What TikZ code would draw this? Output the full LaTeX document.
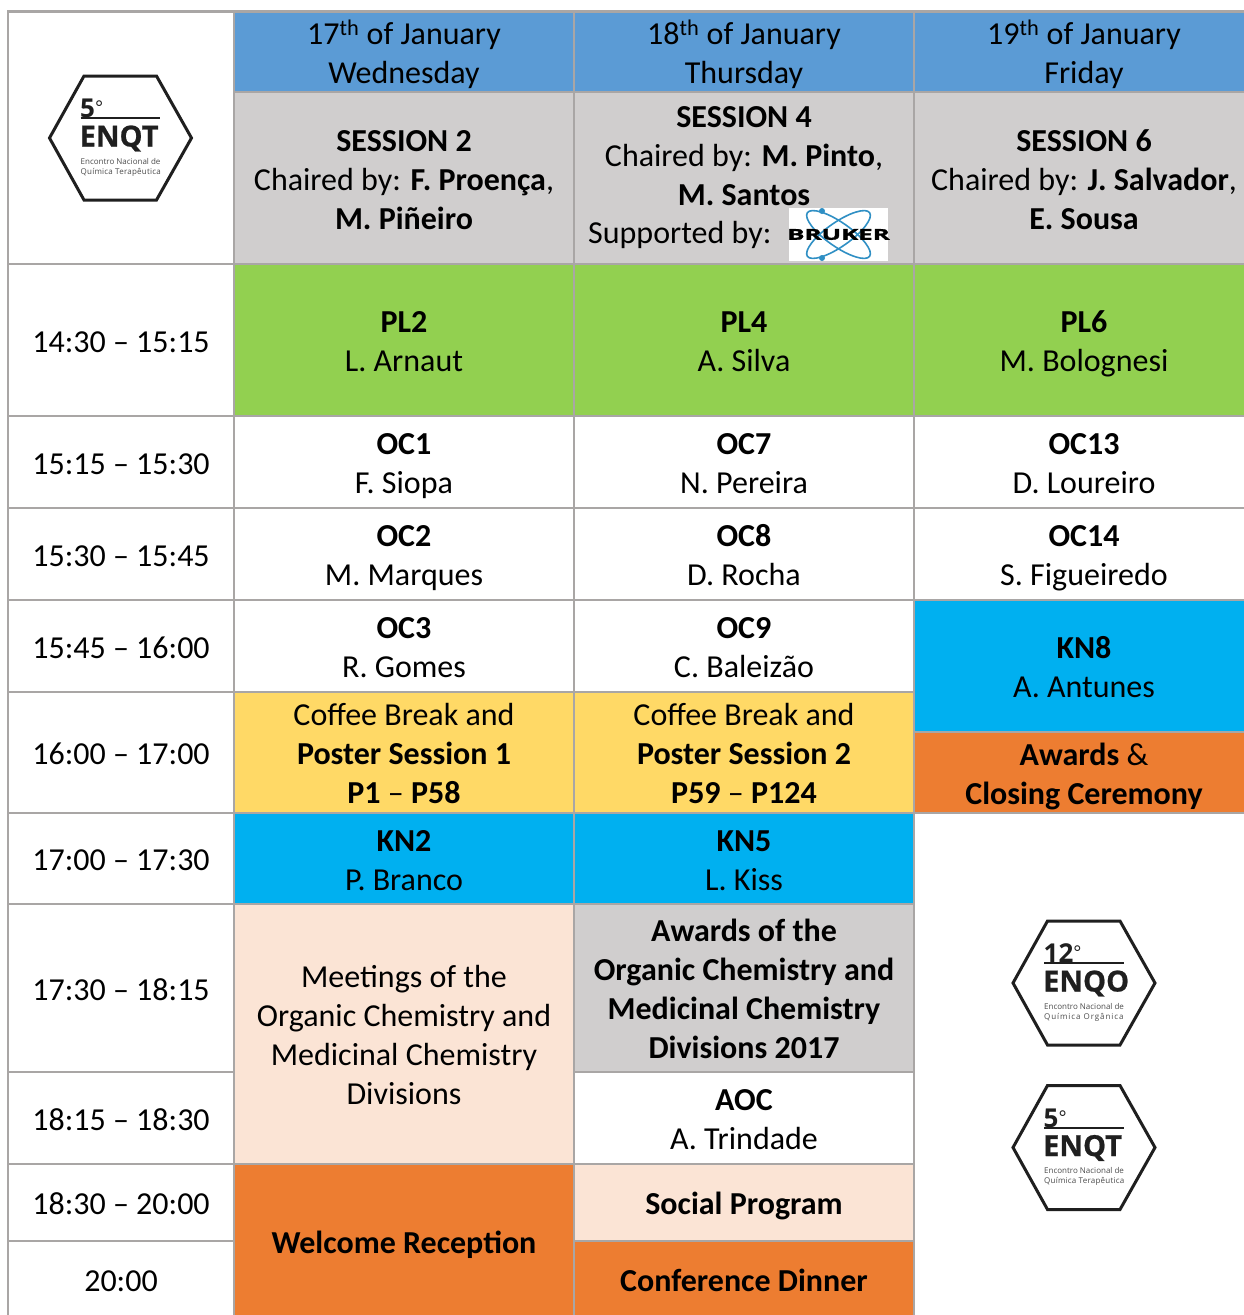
\documentclass[tikz,border=0pt]{standalone}
\usepackage{fontspec}
\setmainfont{Carlito}
\newfontfamily\logofont{Open Sans}
\definecolor{gridc}{HTML}{A9A6A5}
\definecolor{hdr}{HTML}{5B9BD5}
\definecolor{sess}{HTML}{D0CECE}
\definecolor{plc}{HTML}{92D050}
\definecolor{knc}{HTML}{00B0F0}
\definecolor{cof}{HTML}{FFD966}
\definecolor{org}{HTML}{ED7D31}
\definecolor{pch}{HTML}{FBE4D5}
\definecolor{brk}{HTML}{2F8FC4}
\tikzset{
  cellbox/.style={draw=gridc,line width=2pt,inner sep=0pt,outer sep=0pt},
  celltext/.style={align=center,inner sep=0pt,font=\fontsize{32}{39}\selectfont,text=black},
  hexlogo/.style={draw=black!88,line width=3pt,line join=miter},
  logosmall/.style={inner sep=0pt,text=black!70,font=\logofont\fontsize{8}{10}\selectfont,align=left,anchor=north west}
}
% name, x0, y0, x1, y1, fill, text
\newcommand{\tcell}[7]{%
  \pgfmathsetmacro{\cw}{#4-#2}\pgfmathsetmacro{\ch}{#5-#3}%
  \pgfmathsetmacro{\cx}{(#2+#4)/2}\pgfmathsetmacro{\cy}{(#3+#5)/2}%
  \node[cellbox,fill=#6,minimum width=\cw pt,minimum height=\ch pt] (#1) at (\cx,\cy) {};
  \node[celltext,yshift=-4.6pt] (#1t) at (#1.center) {\strut #7\strut};
}
% name, centre x, centre y, big number, big word, line 2
\newcommand{\enqlogo}[6]{%
  \begin{scope}[shift={(#2,#3)}]
    \draw[hexlogo] (-71,0) -- (-36.5,-62) -- (36,-62) -- (71,0) -- (36,62) -- (-36.5,62) -- cycle;
    \node[inner sep=0pt,anchor=base west,font=\logofont\bfseries\fontsize{26}{26}\selectfont,text=black!88] (#1n) at (-40.5,-20.5) {#4{\fontsize{19}{19}\selectfont\mdseries\raisebox{3pt}{°}}};
    \draw[black!88,line width=2pt] (-40,-20) -- (39.5,-20);
    \node[inner sep=0pt,anchor=base west,font=\logofont\bfseries\fontsize{29}{29}\selectfont\addfontfeature{FakeBold=0.7},text=black!88] (#1w) at (-41,8.5) {#5};
    \node[logosmall] (#1s) at (-40,20) {Encontro Nacional de\\#6};
  \end{scope}
}
\begin{document}
\begin{tikzpicture}[x=1pt,y=-1pt]
\useasboundingbox (0,0) rectangle (1244,1315);
\fill[white] (0,0) rectangle (1244,1315);
% first column
\tcell{c0}{8}{12}{234}{264}{white}{}
\tcell{t1}{8}{264}{234}{416}{white}{14:30 – 15:15}
\tcell{t2}{8}{416}{234}{508}{white}{15:15 – 15:30}
\tcell{t3}{8}{508}{234}{600}{white}{15:30 – 15:45}
\tcell{t4}{8}{600}{234}{692}{white}{15:45 – 16:00}
\tcell{t5}{8}{692}{234}{813}{white}{16:00 – 17:00}
\tcell{t6}{8}{813}{234}{904}{white}{17:00 – 17:30}
\tcell{t7}{8}{904}{234}{1072}{white}{17:30 – 18:15}
\tcell{t8}{8}{1072}{234}{1164}{white}{18:15 – 18:30}
\tcell{t9}{8}{1164}{234}{1241}{white}{18:30 – 20:00}
\tcell{t10}{8}{1241}{234}{1318}{white}{20:00}
% headers
\tcell{h1}{234}{12}{574}{92}{hdr}{17\textsuperscript{th} of January\\Wednesday}
\tcell{h2}{574}{12}{914}{92}{hdr}{18\textsuperscript{th} of January\\Thursday}
\tcell{h3}{914}{12}{1254}{92}{hdr}{19\textsuperscript{th} of January\\Friday}
% sessions
\tcell{s1}{234}{92}{574}{264}{sess}{\textbf{SESSION 2}\\Chaired by: \textbf{F. Proença},\\\textbf{M. Piñeiro}}
\tcell{s2}{574}{92}{914}{264}{sess}{}
\node[celltext,yshift=-3.2pt] (s2t) at (744,155) {\strut\textbf{SESSION 4}\\Chaired by: \textbf{M. Pinto},\\\textbf{M. Santos}\strut};
\node[celltext,anchor=base west] (s2u) at (588,243.5) {Supported by:};
\tcell{s3}{914}{92}{1254}{264}{sess}{\textbf{SESSION 6}\\Chaired by: \textbf{J. Salvador},\\\textbf{E. Sousa}}
% Bruker logo
\fill[white] (789,208) rectangle (888,261);
\draw[brk,line width=1.6pt,rotate around={35:(838.5,234.5)}] (838.5,234.5) ellipse (38 and 12);
\draw[brk,line width=1.6pt,rotate around={-35:(838.5,234.5)}] (838.5,234.5) ellipse (38 and 12);
\fill[brk] (822,211) circle (3) (822,258) circle (3);
\node[inner sep=0pt,font=\logofont\bfseries\fontsize{15}{15}\selectfont\addfontfeature{FakeBold=1.5},xscale=1.72] (brk) at (838.5,234.5) {BRUKER};
% plenaries
\tcell{p1}{234}{264}{574}{416}{plc}{\textbf{PL2}\\L. Arnaut}
\tcell{p2}{574}{264}{914}{416}{plc}{\textbf{PL4}\\A. Silva}
\tcell{p3}{914}{264}{1254}{416}{plc}{\textbf{PL6}\\M. Bolognesi}
% oral communications
\tcell{o1}{234}{416}{574}{508}{white}{\textbf{OC1}\\F. Siopa}
\tcell{o7}{574}{416}{914}{508}{white}{\textbf{OC7}\\N. Pereira}
\tcell{o13}{914}{416}{1254}{508}{white}{\textbf{OC13}\\D. Loureiro}
\tcell{o2}{234}{508}{574}{600}{white}{\textbf{OC2}\\M. Marques}
\tcell{o8}{574}{508}{914}{600}{white}{\textbf{OC8}\\D. Rocha}
\tcell{o14}{914}{508}{1254}{600}{white}{\textbf{OC14}\\S. Figueiredo}
\tcell{o3}{234}{600}{574}{692}{white}{\textbf{OC3}\\R. Gomes}
\tcell{o9}{574}{600}{914}{692}{white}{\textbf{OC9}\\C. Baleizão}
\tcell{k8}{914}{600}{1254}{732}{knc}{\textbf{KN8}\\A. Antunes}
% coffee
\tcell{cb1}{234}{692}{574}{813}{cof}{Coffee Break and\\\textbf{Poster Session 1}\\\textbf{P1} – \textbf{P58}}
\tcell{cb2}{574}{692}{914}{813}{cof}{Coffee Break and\\\textbf{Poster Session 2}\\\textbf{P59} – \textbf{P124}}
\tcell{aw}{914}{732}{1254}{813}{org}{\textbf{Awards} \&\\\textbf{Closing Ceremony}}
% keynotes
\tcell{k2}{234}{813}{574}{904}{knc}{\textbf{KN2}\\P. Branco}
\tcell{k5}{574}{813}{914}{904}{knc}{\textbf{KN5}\\L. Kiss}
% evening
\tcell{me}{234}{904}{574}{1164}{pch}{Meetings of the\\Organic Chemistry and\\Medicinal Chemistry\\Divisions}
\tcell{ad}{574}{904}{914}{1072}{sess}{\textbf{Awards of the}\\\textbf{Organic Chemistry and}\\\textbf{Medicinal Chemistry}\\\textbf{Divisions 2017}}
\tcell{ao}{574}{1072}{914}{1164}{white}{\textbf{AOC}\\A. Trindade}
\tcell{so}{574}{1164}{914}{1241}{pch}{\textbf{Social Program}}
\tcell{wr}{234}{1164}{574}{1318}{org}{\textbf{Welcome Reception}}
\tcell{cd}{574}{1241}{914}{1318}{org}{\textbf{Conference Dinner}}
% top edge
\fill[gridc] (7,10) rectangle (1244,13);
% logos
\enqlogo{la}{120.5}{138}{5}{ENQT}{{\addfontfeature{LetterSpace=2.8}Química Terapêutica}}
\enqlogo{lb}{1084}{983}{12}{ENQO}{{\addfontfeature{LetterSpace=11.5}Química Orgânica}}
\enqlogo{lc}{1084}{1147.5}{5}{ENQT}{{\addfontfeature{LetterSpace=2.8}Química Terapêutica}}
\end{tikzpicture}
\end{document}
